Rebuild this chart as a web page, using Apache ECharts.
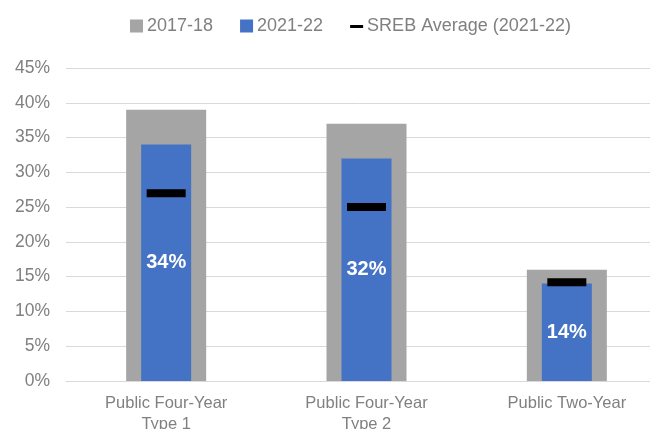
<!DOCTYPE html>
<html>
<head>
<meta charset="utf-8">
<script src="https://cdn.jsdelivr.net/npm/echarts@6/dist/echarts.min.js"></script>
<style>html,body{margin:0;padding:0;background:#fff}#c{width:650px;height:429px}</style>
</head>
<body>
<div id="c"></div>
<script>
var categories = ['Public Four-Year\nType 1', 'Public Four-Year\nType 2', 'Public Two-Year'];
var values2017 = [39, 37, 16];
var values2021 = [34, 32, 14];
var srebAverage = [27, 25, 14.2];
var yTicks = [0, 5, 10, 15, 20, 25, 30, 35, 40, 45];

var chart = echarts.init(document.getElementById('c'));
var font = 'Liberation Sans, Arial, sans-serif';
chart.setOption({
  animation: false,
  textStyle: { fontFamily: font },
  legend: {
    left: 125, top: 12,
    itemWidth: 13, itemHeight: 13, itemGap: 27,
    textStyle: { color: '#808080', fontSize: 18, fontFamily: font, padding: [0, 0, 0, -1] },
    data: [
      { name: '2017-18', icon: 'rect' },
      { name: '2021-22', icon: 'rect' },
      { name: 'SREB Average (2021-22)', icon: 'path://M0,0L0.01,0L0.01,0.01ZM0,5.5h13v3H0zM0,13L0.01,13L0.01,12.99Z', itemStyle: { color: '#000', opacity: 1 } }
    ]
  },
  grid: { left: 66, top: 68, width: 601, bottom: 48, outerBoundsMode: 'none', containLabel: false },
  xAxis: [
    {
      type: 'category', data: categories,
      axisLine: { lineStyle: { color: '#D9D9D9', width: 1 } },
      axisTick: { show: false },
      axisLabel: { color: '#808080', fontSize: 16.5, lineHeight: 21, margin: 12, fontFamily: font }
    },
    { type: 'category', data: categories, show: false }
  ],
  yAxis: {
    type: 'value', min: yTicks[0], max: yTicks[yTicks.length - 1], interval: 5,
    axisLine: { show: false }, axisTick: { show: false },
    splitLine: { lineStyle: { color: '#D9D9D9', width: 1 } },
    axisLabel: { color: '#808080', fontSize: 17.5, margin: 16, formatter: '{value}%', fontFamily: font }
  },
  series: [
    {
      name: '2017-18', type: 'bar', xAxisIndex: 0, data: values2017,
      barWidth: 80, itemStyle: { color: '#A5A5A5' }
    },
    {
      name: '2021-22', type: 'bar', xAxisIndex: 1, data: values2021,
      barWidth: 50, itemStyle: { color: '#4472C4' },
      label: { show: true, position: 'inside', formatter: '{c}%', color: '#fff', fontWeight: 'bold', fontSize: 20, fontFamily: font }
    },
    {
      name: 'SREB Average (2021-22)', type: 'scatter', xAxisIndex: 1, data: srebAverage,
      symbol: 'rect', symbolSize: [39, 8], itemStyle: { color: '#000', opacity: 1 }, z: 5
    }
  ]
});
</script>
</body>
</html>
